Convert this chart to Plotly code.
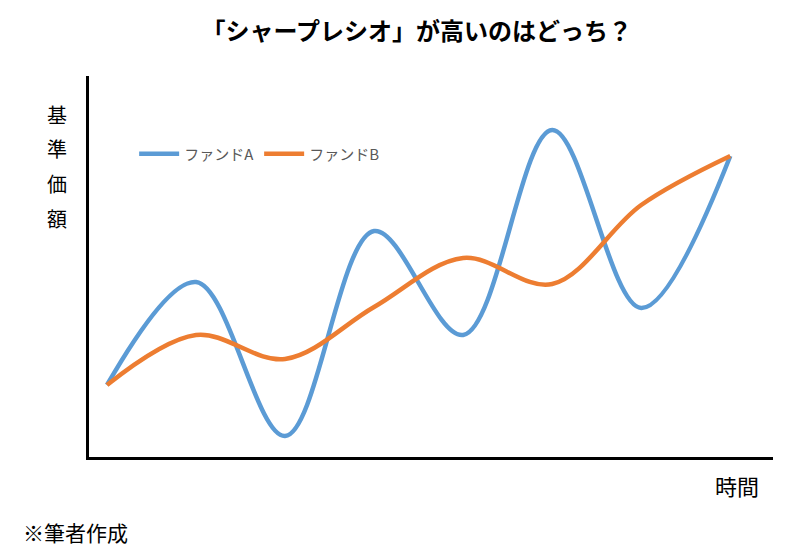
import plotly.graph_objects as go

periods = [0, 1, 2, 3, 4, 5, 6, 7]
fund_a = [72, 175, 21, 226, 122, 327, 149, 301]
fund_b = [72, 122, 98, 150, 199, 173, 252, 301]
series_names = ["ファンドA", "ファンドB"]
colors = ["#5B9BD5", "#ED7D31"]

FONT = "Noto Sans CJK JP"

fig = go.Figure()
for name, vals, c in zip(series_names, [fund_a, fund_b], colors):
    fig.add_trace(go.Scatter(
        x=periods, y=vals, name=name, mode="lines",
        line=dict(color=c, width=4.5, shape="spline", smoothing=1.0),
        hoverinfo="skip",
    ))

fig.update_layout(
    width=800, height=558,
    margin=dict(l=81, r=35, t=68, b=109),
    paper_bgcolor="white", plot_bgcolor="white",
    title=dict(text="<b>「シャープレシオ」が高いのはどっち？</b>",
               x=0.511, xanchor="center", y=0.957, yanchor="middle",
               font=dict(family=FONT, size=24, color="black")),
    showlegend=True,
    legend=dict(orientation="h", x=0.066, y=0.795, xanchor="left", yanchor="middle",
                font=dict(family=FONT, size=15, color="#595959"),
                bgcolor="rgba(0,0,0,0)", itemwidth=40),
    xaxis=dict(range=[-0.202, 7.48], showgrid=False, zeroline=False,
               showticklabels=False, ticks="", showline=True,
               linecolor="black", linewidth=3),
    yaxis=dict(range=[0, 381], showgrid=False, zeroline=False,
               showticklabels=False, ticks="", showline=True,
               linecolor="black", linewidth=3),
)

ylabel_chars = list("基準価額")
ylabel_pos = [0.898, 0.811, 0.719, 0.627]
for ch, yp in zip(ylabel_chars, ylabel_pos):
    fig.add_annotation(text=ch, xref="paper", yref="paper",
                       x=-0.047, y=yp, xanchor="center", yanchor="middle",
                       showarrow=False, font=dict(family=FONT, size=20, color="black"))

fig.add_annotation(text="時間", xref="paper", yref="paper",
                   x=0.947, y=-0.0735, xanchor="center", yanchor="middle",
                   showarrow=False, font=dict(family=FONT, size=22, color="black"))

fig.add_annotation(text="※筆者作成", xref="paper", yref="paper",
                   x=-0.0994, y=-0.197, xanchor="left", yanchor="middle",
                   showarrow=False, font=dict(family=FONT, size=21, color="black"))

fig.write_html("out.html")
